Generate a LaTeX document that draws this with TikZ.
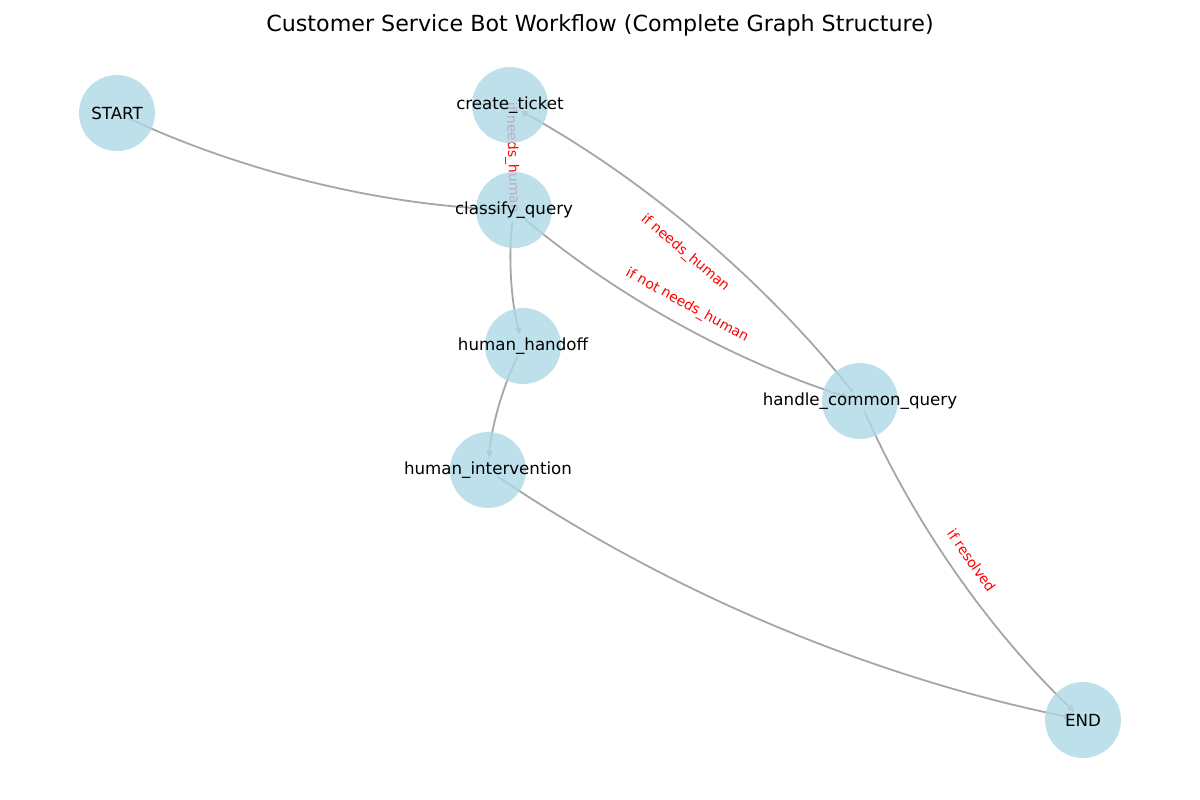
\documentclass[tikz,border=0pt]{standalone}
\usepackage{fontspec}
\setmainfont{DejaVu Sans}
\usetikzlibrary{arrows.meta,calc}
\definecolor{nodeblue}{RGB}{173,216,230}
\definecolor{edgegray}{RGB}{166,166,166}
\pgfdeclarelayer{edges}
\pgfdeclarelayer{labels}
\pgfsetlayers{edges,labels,main}
\tikzset{
  gnode/.style={circle, minimum size=76pt, inner sep=0pt, draw=none,
    fill=nodeblue, fill opacity=0.8, text opacity=1},
  ntext/.style={font=\fontsize{16.67}{20}\selectfont, text=black, inner sep=0pt},
  elabel/.style={font=\fontsize{13.9}{16}\selectfont, text=red, fill=white,
    rounded corners=3pt, inner sep=4pt},
  gedge/.style={draw=edgegray, line width=1.8pt,
    -{Triangle[length=7pt,width=6pt]},
    shorten <=12pt, shorten >=12pt, bend right=11.31, looseness=0.858},
  ttl/.style={font=\fontsize{22.2}{26}\selectfont, text=black, inner sep=0pt}
}
\begin{document}
\begin{tikzpicture}[x=1pt,y=-1pt]
\useasboundingbox (0,0) rectangle (1200,800);
\node[ttl] (title) at (600,25) {Customer Service Bot Workflow (Complete Graph Structure)};
% nodes
\node[gnode, label={[ntext]center:START}] (start) at (117,113) {};
\node[gnode, label={[ntext]center:create\_ticket}] (create) at (510,105) {};
\node[gnode, label={[ntext]center:classify\_query}] (classify) at (514,210) {};
\node[gnode, label={[ntext]center:human\_handoff}] (handoff) at (523,346) {};
\node[gnode, label={[ntext]center:handle\_common\_query}] (handle) at (860,401) {};
\node[gnode, label={[ntext]center:human\_intervention}] (interv) at (488,470) {};
\node[gnode, label={[ntext]center:END}] (end) at (1083,720) {};
% edges
\begin{pgfonlayer}{edges}
\draw[gedge] (start.center) to (classify.center);
\draw[gedge] (classify.center) to (create.center);
\draw[gedge] (classify.center) to (handoff.center);
\draw[gedge] (classify.center) to (handle.center);
\draw[gedge] (handle.center) to (create.center);
\draw[gedge] (handle.center) to (end.center);
\draw[gedge] (handoff.center) to (interv.center);
\draw[gedge] (interv.center) to (end.center);
\end{pgfonlayer}
% edge labels
\begin{pgfonlayer}{labels}
\node[elabel, rotate=-88] (l1) at ($(classify)!0.5!(create)$) {if needs\_human};
\node[elabel, rotate=-40.2] (l2) at ($(handle)!0.5!(create)$) {if needs\_human};
\node[elabel, rotate=-28.9] (l3) at ($(classify)!0.5!(handle)$) {if not needs\_human};
\node[elabel, rotate=-55] (l4) at ($(handle)!0.5!(end)$) {if resolved};
\end{pgfonlayer}
\end{tikzpicture}
\end{document}
